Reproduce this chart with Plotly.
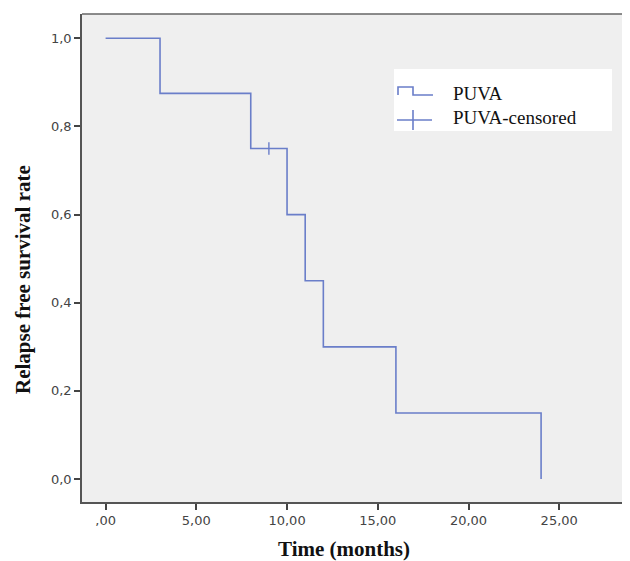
import plotly.graph_objects as go

# Kaplan-Meier data
event_times = [0, 3, 8, 10, 11, 12, 16, 24]
survival = [1.0, 0.875, 0.75, 0.6, 0.45, 0.3, 0.15, 0.0]
censor_times = [9]
censor_surv = [0.75]

x_tick_vals = [0, 5, 10, 15, 20, 25]
x_tick_text = [",00", "5,00", "10,00", "15,00", "20,00", "25,00"]
y_tick_vals = [0, 0.2, 0.4, 0.6, 0.8, 1.0]
y_tick_text = ["0,0", "0,2", "0,4", "0,6", "0,8", "1,0"]
legend_names = ["PUVA", "PUVA-censored"]

line_color = "#6a7ec9"

fig = go.Figure()
fig.add_trace(go.Scatter(
    x=event_times, y=survival, mode="lines", line_shape="hv",
    line=dict(color=line_color, width=1.6), name=legend_names[0],
    showlegend=False))
fig.add_trace(go.Scatter(
    x=censor_times, y=censor_surv, mode="markers",
    marker=dict(symbol="line-ns", size=9, line=dict(color=line_color, width=1.4)),
    name=legend_names[1], showlegend=False))

OFF = 8  # page body margin
W, H = 630 - OFF, 561 - OFF
ml, mr, mt, mb = 82 - OFF, 0, 14 - OFF, 561 - 502
pw, ph = W - ml - mr, H - mt - mb

def px(xp):
    return (xp - OFF - ml) / pw

def py(yp):
    return 1 - (yp - OFF - mt) / ph

def path(points):
    return "M" + " L".join(f"{px(a):.5f},{py(b):.5f}" for a, b in points)

legend_font = dict(family="Liberation Serif", size=19, color="#111")

fig.update_layout(
    width=W, height=H,
    margin=dict(l=ml, r=mr, t=mt, b=mb),
    paper_bgcolor="white", plot_bgcolor="#efefef",
    showlegend=False,
    xaxis=dict(range=[-1.3, 28.9], tickvals=x_tick_vals, ticktext=x_tick_text,
               showgrid=False, zeroline=False, showline=True, linecolor="#555",
               linewidth=1.5, ticks="outside", ticklen=6, tickwidth=1.5,
               tickcolor="#444",
               tickfont=dict(family="DejaVu Sans", size=13, color="#444"),
               mirror=False),
    yaxis=dict(range=[-0.052, 1.055], tickvals=y_tick_vals, ticktext=y_tick_text,
               showgrid=False, zeroline=False, showline=True, linecolor="#555",
               linewidth=1.5, ticks="outside", ticklen=6, tickwidth=1.5,
               tickcolor="#444",
               tickfont=dict(family="DejaVu Sans", size=13, color="#444")),
    shapes=[
        dict(type="rect", xref="paper", yref="paper",
             x0=px(394), x1=px(612), y0=py(131), y1=py(69),
             fillcolor="white", line=dict(width=0), layer="below"),
        dict(type="line", xref="paper", yref="paper",
             x0=0, x1=1, y0=1, y1=1, line=dict(color="#666", width=1.5)),
        # legend glyphs
        dict(type="path", xref="paper", yref="paper",
             path=path([(398, 95), (398, 87), (413, 87), (413, 95), (433, 95)]),
             line=dict(color=line_color, width=1.6)),
        dict(type="line", xref="paper", yref="paper",
             x0=px(397), x1=px(432), y0=py(120), y1=py(120),
             line=dict(color=line_color, width=1.6)),
        dict(type="line", xref="paper", yref="paper",
             x0=px(413), x1=px(413), y0=py(110), y1=py(130),
             line=dict(color=line_color, width=1.6)),
    ],
    annotations=[
        dict(text=legend_names[0], xref="paper", yref="paper",
             x=px(451), y=py(93), xanchor="left", yanchor="middle",
             showarrow=False, font=legend_font),
        dict(text=legend_names[1], xref="paper", yref="paper",
             x=px(451), y=py(117), xanchor="left", yanchor="middle",
             showarrow=False, font=legend_font),
        dict(text="<b>Time (months)</b>", xref="paper", yref="paper",
             x=px(344), y=py(549), xanchor="center", yanchor="middle",
             showarrow=False,
             font=dict(family="Liberation Serif", size=21, color="#111")),
        dict(text="<b>Relapse free survival rate</b>", xref="paper", yref="paper",
             x=px(23), y=py(280), xanchor="center", yanchor="middle",
             textangle=-90, showarrow=False,
             font=dict(family="Liberation Serif", size=21, color="#111")),
    ],
)

fig.write_html("out.html")
